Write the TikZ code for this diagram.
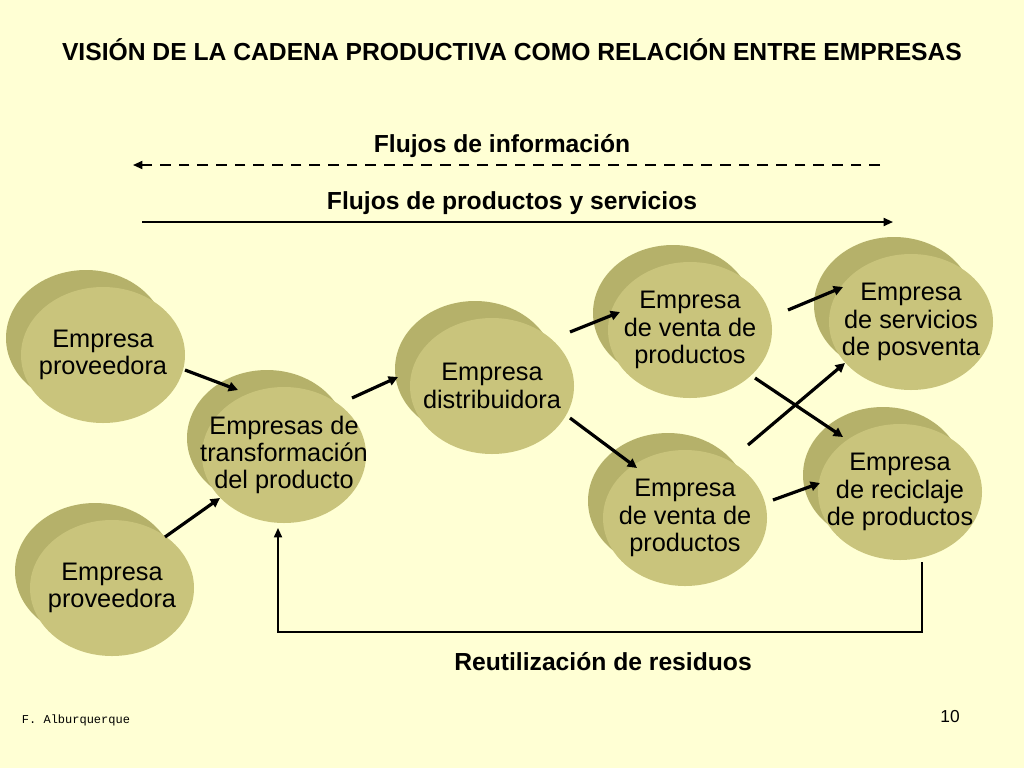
\documentclass[tikz,border=0pt]{standalone}
\usepackage{fontspec}
\setmainfont{Liberation Sans}
\setmonofont{Liberation Mono}
\usetikzlibrary{arrows.meta}
\definecolor{bg}{HTML}{FFFFD4}
\definecolor{discf}{HTML}{C9C47C}
\definecolor{discb}{HTML}{B5B16A}
\begin{document}
\begin{tikzpicture}[x=0.75pt,y=-0.75pt,
  arr/.style={line width=2.4pt,-{Triangle[length=7pt,width=7pt]}},
  lbl/.style={font=\fontsize{18.5}{20}\selectfont\bfseries}]
\fill[bg] (0,0) rectangle (1024,768);
\useasboundingbox (0,0) rectangle (1024,768);
\newcommand\disc[4]{%
  \fill[discb] (#1-17,#2-17) ellipse [x radius=80, y radius=68];
  \fill[discf] (#1,#2) ellipse [x radius=82, y radius=68];
  \node[align=center,font=\fontsize{19}{20.5}\selectfont] (#3) at (#1,#2) {#4};}
\disc{103}{355}{p1}{Empresa\\proveedora}
\disc{284}{455}{tr}{Empresas de\\transformación\\del producto}
\disc{112}{588}{p2}{Empresa\\proveedora}
\disc{492}{386}{di}{Empresa\\distribuidora}
\disc{690}{330}{v1}{Empresa\\de venta de\\productos}
\disc{685}{518}{v2}{Empresa\\de venta de\\productos}
\disc{911}{322}{ps}{Empresa\\de servicios\\de posventa}
\disc{900}{492}{rc}{Empresa\\de reciclaje\\de productos}
\node[lbl] (t) at (512,50) {VISIÓN DE LA CADENA PRODUCTIVA COMO RELACIÓN ENTRE EMPRESAS};
\node[lbl] (fi) at (502,146) {Flujos de información};
\node[lbl] (fp) at (512,203) {Flujos de productos y servicios};
\node[lbl] (rr) at (603,662) {Reutilización de residuos};
\node[font=\ttfamily\fontsize{9}{10}\selectfont] (au) at (76,720) {F. Alburquerque};
\node[font=\fontsize{13}{14}\selectfont] (pg) at (950,717) {10};
\coordinate (i1) at (880,165); \coordinate (i2) at (133,165);
\coordinate (f1) at (142,222); \coordinate (f2) at (893,222);
\draw[line width=1.3pt,dash pattern=on 8pt off 6pt,-{Triangle[length=7pt,width=6pt]}] (i1) -- (i2);
\draw[line width=1.3pt,-{Triangle[length=7pt,width=6pt]}] (f1) -- (f2);
\foreach \a/\b/\c/\d in {185/370/238/390, 165/537/220/498, 352/398/398/377, 570/332/620/312, 570/418/637/468, 788/310/843/287, 748/445/845/363, 755/378/843/437, 773/500/820/483}
  \draw[arr] (\a,\b) -- (\c,\d);
\coordinate (r1) at (922,562); \coordinate (r2) at (278,528);
\draw[line width=1.3pt,-{Triangle[length=7pt,width=6pt]}] (r1) |- (600,632) -| (r2);
\end{tikzpicture}
\end{document}
